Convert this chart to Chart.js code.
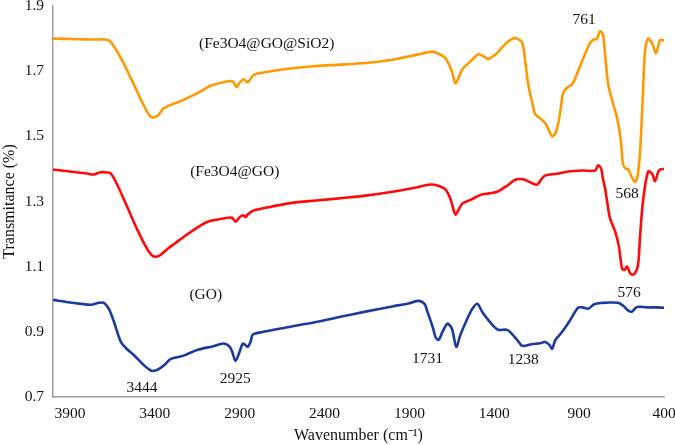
<!DOCTYPE html>
<html>
<head>
<meta charset="utf-8">
<script src="https://cdn.jsdelivr.net/npm/chart.js@4"></script>
<style>
  html, body { margin: 0; padding: 0; background: #fff; }
  #ftir { display: block; }
</style>
</head>
<body>
<canvas id="ftir" width="675" height="445"></canvas>
<script>
// wavenumber ticks (cm-1), axis runs high -> low
const xTicks = [3900, 3400, 2900, 2400, 1900, 1400, 900, 400];
const yTicks = [0.7, 0.9, 1.1, 1.3, 1.5, 1.7, 1.9];

// (Fe3O4@GO@SiO2)
const sio2Wave = [4000, 3850, 3760, 3690, 3660, 3600, 3541, 3470, 3430, 3412, 3380, 3347, 3290, 3247, 3180, 3129, 3071, 2971, 2940, 2918, 2900, 2876, 2853, 2818, 2760, 2641, 2450, 2306, 2159, 2000, 1860, 1765, 1730, 1688, 1650, 1629, 1610, 1588, 1530, 1494, 1460, 1435, 1410, 1382, 1350, 1324, 1290, 1265, 1235, 1215, 1200, 1175, 1159, 1130, 1100, 1075, 1059, 1045, 1029, 1010, 994, 970, 941, 910, 882, 855, 835, 815, 795, 776, 759, 745, 729, 700, 676, 655, 641, 625, 612, 590, 571, 555, 541, 525, 512, 494, 470, 447, 430, 424, 400];
const sio2T = [1.80, 1.798, 1.797, 1.797, 1.79, 1.74, 1.678, 1.60, 1.563, 1.558, 1.565, 1.586, 1.60, 1.608, 1.625, 1.638, 1.655, 1.669, 1.668, 1.651, 1.665, 1.675, 1.666, 1.688, 1.696, 1.706, 1.716, 1.72, 1.725, 1.735, 1.75, 1.76, 1.754, 1.74, 1.70, 1.663, 1.68, 1.706, 1.735, 1.752, 1.745, 1.737, 1.745, 1.756, 1.775, 1.789, 1.80, 1.80, 1.787, 1.72, 1.66, 1.60, 1.568, 1.555, 1.54, 1.515, 1.50, 1.505, 1.525, 1.58, 1.633, 1.65, 1.66, 1.695, 1.731, 1.765, 1.787, 1.797, 1.80, 1.823, 1.81, 1.74, 1.66, 1.60, 1.555, 1.49, 1.414, 1.40, 1.40, 1.375, 1.36, 1.38, 1.454, 1.62, 1.76, 1.80, 1.785, 1.755, 1.785, 1.795, 1.795];

// (Fe3O4@GO)
const feGoWave = [4000, 3900, 3800, 3759, 3720, 3680, 3659, 3620, 3559, 3500, 3440, 3406, 3370, 3324, 3280, 3229, 3150, 3088, 3030, 2971, 2945, 2924, 2900, 2880, 2865, 2853, 2820, 2735, 2600, 2450, 2306, 2159, 2000, 1860, 1776, 1730, 1688, 1660, 1629, 1610, 1588, 1540, 1482, 1430, 1382, 1320, 1276, 1230, 1176, 1147, 1120, 1100, 1030, 965, 880, 806, 788, 770, 760, 747, 735, 718, 688, 665, 647, 632, 618, 600, 588, 570, 553, 540, 524, 494, 470, 453, 435, 424, 400];
const feGoT = [1.398, 1.392, 1.386, 1.383, 1.39, 1.389, 1.386, 1.35, 1.279, 1.21, 1.15, 1.131, 1.135, 1.155, 1.172, 1.192, 1.22, 1.238, 1.245, 1.25, 1.25, 1.238, 1.252, 1.258, 1.252, 1.26, 1.272, 1.282, 1.295, 1.303, 1.31, 1.318, 1.33, 1.343, 1.352, 1.348, 1.337, 1.31, 1.26, 1.275, 1.294, 1.305, 1.32, 1.325, 1.33, 1.35, 1.367, 1.368, 1.356, 1.352, 1.37, 1.38, 1.385, 1.392, 1.395, 1.395, 1.411, 1.40, 1.37, 1.34, 1.30, 1.248, 1.208, 1.16, 1.094, 1.09, 1.10, 1.08, 1.075, 1.08, 1.105, 1.20, 1.30, 1.392, 1.385, 1.362, 1.39, 1.398, 1.40];

// (GO)
const goWave = [4000, 3900, 3820, 3776, 3730, 3700, 3670, 3641, 3600, 3560, 3524, 3470, 3430, 3412, 3380, 3340, 3306, 3230, 3147, 3060, 2994, 2960, 2945, 2924, 2900, 2882, 2868, 2853, 2835, 2824, 2760, 2641, 2450, 2306, 2159, 2000, 1900, 1847, 1810, 1794, 1760, 1747, 1729, 1705, 1676, 1650, 1624, 1600, 1559, 1530, 1500, 1470, 1441, 1400, 1376, 1324, 1290, 1265, 1235, 1180, 1130, 1100, 1075, 1059, 1040, 1000, 960, 906, 880, 847, 810, 765, 720, 671, 640, 610, 588, 570, 553, 500, 450, 400];
const goT = [0.998, 0.99, 0.985, 0.983, 0.989, 0.989, 0.97, 0.931, 0.869, 0.845, 0.829, 0.80, 0.783, 0.78, 0.785, 0.80, 0.817, 0.827, 0.845, 0.855, 0.864, 0.855, 0.84, 0.811, 0.84, 0.864, 0.86, 0.854, 0.87, 0.891, 0.90, 0.912, 0.93, 0.946, 0.962, 0.978, 0.988, 0.995, 0.985, 0.962, 0.91, 0.885, 0.875, 0.90, 0.925, 0.91, 0.854, 0.89, 0.94, 0.97, 0.986, 0.96, 0.94, 0.915, 0.906, 0.906, 0.89, 0.875, 0.857, 0.862, 0.865, 0.869, 0.86, 0.848, 0.875, 0.90, 0.93, 0.974, 0.975, 0.971, 0.985, 0.989, 0.99, 0.989, 0.98, 0.965, 0.962, 0.972, 0.977, 0.975, 0.975, 0.974];

// text written inside the plot: [text, wavenumber, transmittance]
const notes = [
  ["(Fe3O4@GO@SiO2)", 2741, 1.783],
  ["(Fe3O4@GO)", 2929, 1.392],
  ["(GO)", 3100, 1.014],
  ["3444", 3476, 0.728],
  ["2925", 2926, 0.755],
  ["1731", 1794, 0.817],
  ["1238", 1229, 0.814],
  ["761", 871, 1.857],
  ["568", 618, 1.322],
  ["576", 606, 1.020]
];

const serif = "'Liberation Serif', 'Times New Roman', serif";

function toPoints(xs, ys) {
  return xs.map((x, i) => ({ x: x, y: ys[i] }));
}

function lineSet(label, xs, ys, color) {
  return {
    label: label,
    data: toPoints(xs, ys),
    borderColor: color,
    backgroundColor: color,
    borderWidth: 2.6,
    pointRadius: 0,
    tension: 0.3,
    fill: false
  };
}

// draws the peak numbers and sample names
const notesPlugin = {
  id: "notes",
  afterDatasetsDraw(chart) {
    const ctx = chart.ctx;
    const xs = chart.scales.x;
    const ys = chart.scales.y;
    ctx.save();
    ctx.fillStyle = "#111";
    ctx.font = "15.5px " + serif;
    ctx.textAlign = "center";
    ctx.textBaseline = "middle";
    notes.forEach((n) => {
      ctx.fillText(n[0], xs.getPixelForValue(n[1]), ys.getPixelForValue(n[2]));
    });
    ctx.restore();
  }
};

new Chart(document.getElementById("ftir"), {
  type: "line",
  data: {
    datasets: [
      lineSet("(Fe3O4@GO@SiO2)", sio2Wave, sio2T, "#ff9900"),
      lineSet("(Fe3O4@GO)", feGoWave, feGoT, "#ff0a0a"),
      lineSet("(GO)", goWave, goT, "#1c3a9e")
    ]
  },
  options: {
    responsive: false,
    animation: false,
    devicePixelRatio: 1,
    layout: { padding: { top: 6, right: 11, left: 0, bottom: 0 } },
    plugins: {
      legend: { display: false },
      tooltip: { enabled: false }
    },
    scales: {
      x: {
        type: "linear",
        reverse: true,
        min: 400,
        max: 4000,
        afterBuildTicks: (scale) => {
          scale.ticks = xTicks.map((v) => ({ value: v }));
        },
        afterFit: (scale) => {
          scale.height = 48;
          scale.paddingLeft = 0;
          scale.paddingRight = 0;
        },
        grid: { display: false, drawTicks: false },
        border: { display: true, color: "#a0a0a0", width: 1.5 },
        ticks: {
          color: "#111",
          padding: 8,
          maxRotation: 0,
          font: { family: serif, size: 15.5 },
          callback: (v) => String(v)
        },
        title: {
          display: true,
          text: "Wavenumber (cm⁻¹)",
          color: "#111",
          padding: { top: 0, bottom: 0 },
          font: { family: serif, size: 16 }
        }
      },
      y: {
        min: 0.7,
        max: 1.9,
        afterBuildTicks: (scale) => {
          scale.ticks = yTicks.map((v) => ({ value: v }));
        },
        afterFit: (scale) => {
          scale.width = 53;
          scale.paddingTop = 0;
          scale.paddingBottom = 0;
        },
        grid: { display: false, drawTicks: false },
        border: { display: true, color: "#a0a0a0", width: 1.5 },
        ticks: {
          color: "#111",
          padding: 9,
          font: { family: serif, size: 15.5 },
          callback: (v) => Number(v).toFixed(1)
        },
        title: {
          display: true,
          text: "Transmitance (%)",
          color: "#111",
          padding: { top: 0, bottom: 0 },
          font: { family: serif, size: 16 }
        }
      }
    }
  },
  plugins: [notesPlugin]
});
</script>
</body>
</html>
